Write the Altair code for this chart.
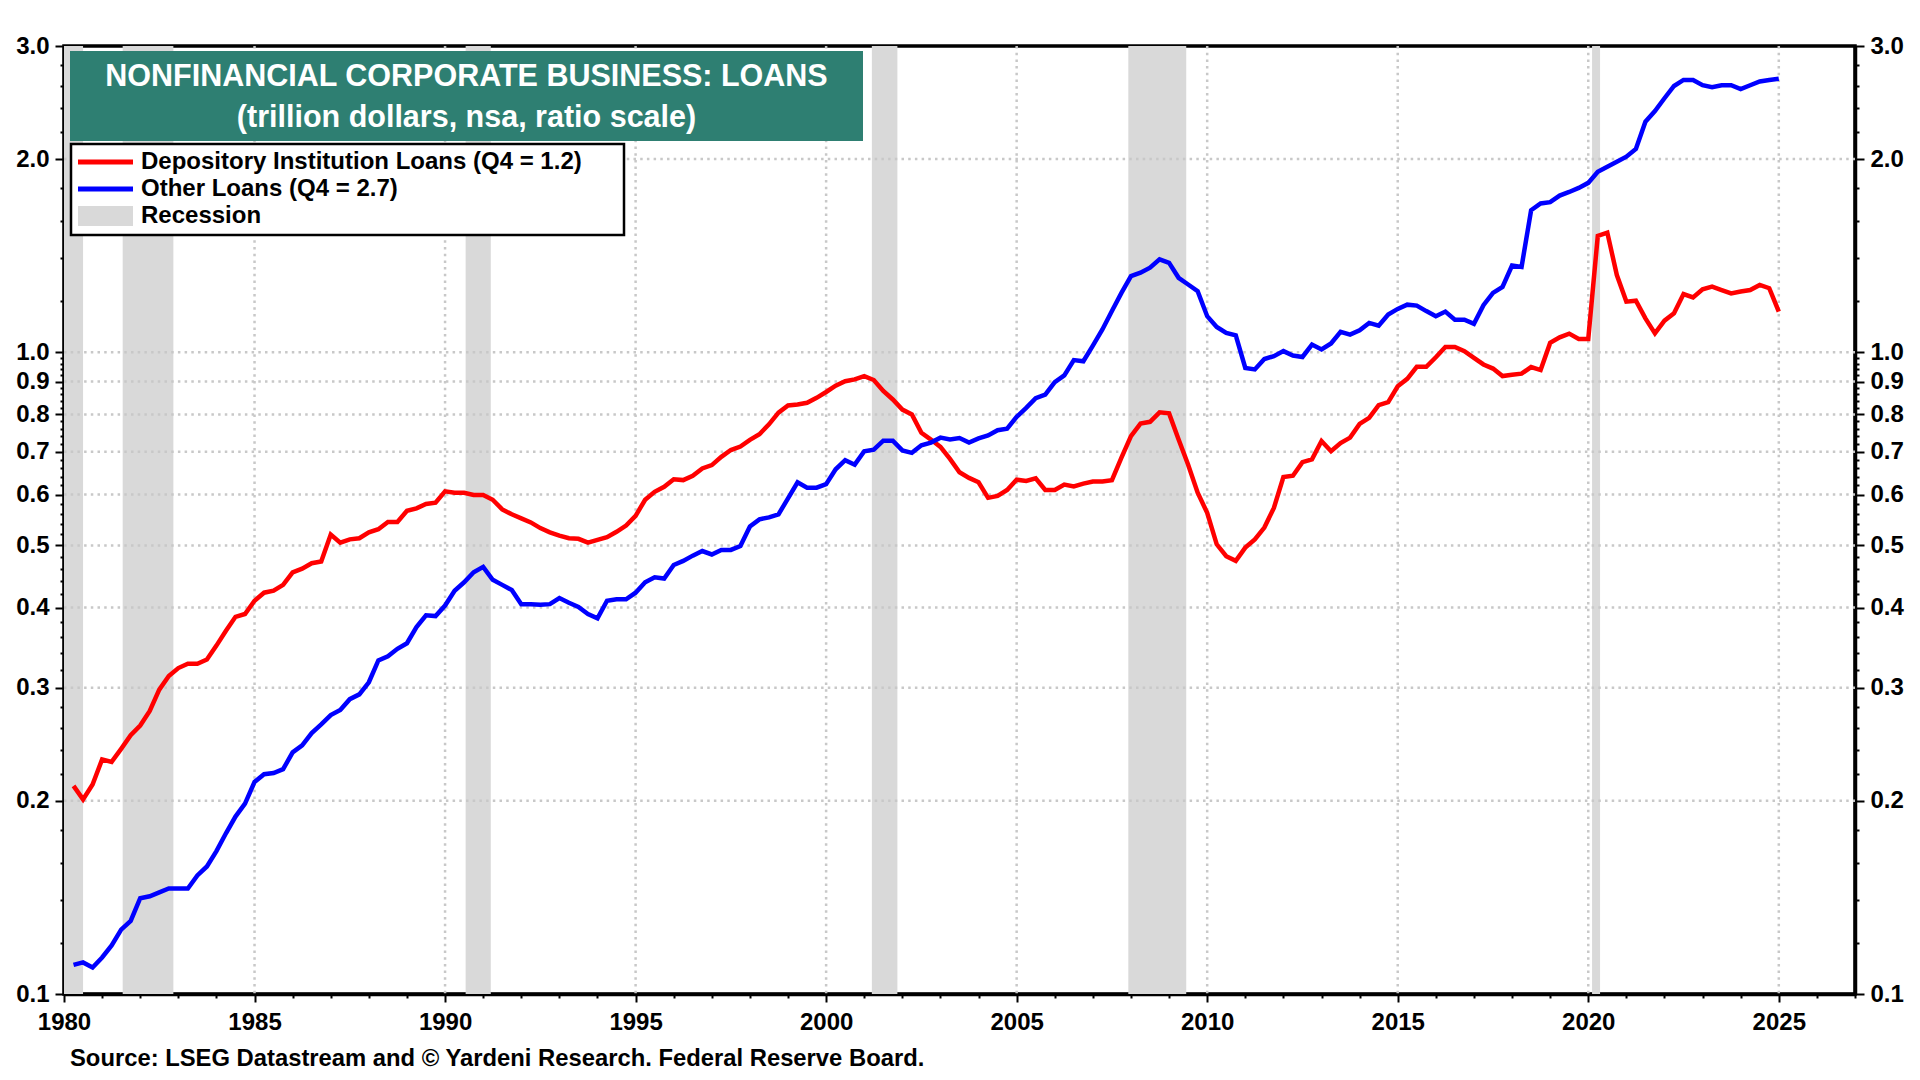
import altair as alt
import pandas as pd

# ---------------- data ----------------
# quarterly, first point 1980 Q1 plotted at 1980.25, last 2024 Q4 plotted at 2025.0
DEP_LOANS = [
    # 1980.25 - 1989.75
    0.211, 0.201, 0.212, 0.232, 0.230, 0.241, 0.253, 0.262, 0.276, 0.298,
    0.313, 0.322, 0.327, 0.327, 0.332, 0.349, 0.368, 0.387, 0.391, 0.410,
    0.422, 0.425, 0.434, 0.454, 0.460, 0.469, 0.472, 0.520, 0.505, 0.511,
    0.513, 0.524, 0.530, 0.544, 0.544, 0.566, 0.571, 0.580, 0.583,
    # 1990.0 - 2000.0
    0.607, 0.604, 0.604, 0.599, 0.599, 0.589, 0.569, 0.559, 0.551, 0.543,
    0.532, 0.524, 0.518, 0.513, 0.512, 0.505, 0.510, 0.515, 0.525, 0.537,
    0.556, 0.589, 0.606, 0.617, 0.634, 0.632, 0.642, 0.659, 0.667, 0.687,
    0.704, 0.713, 0.730, 0.745, 0.772, 0.805, 0.826, 0.829, 0.834, 0.849,
    0.867,
    # 2000.25 - 2010.25
    0.887, 0.901, 0.907, 0.918, 0.905, 0.870, 0.844, 0.814, 0.800, 0.749,
    0.731, 0.712, 0.682, 0.650, 0.637, 0.627, 0.593, 0.597, 0.610, 0.633,
    0.630, 0.636, 0.610, 0.610, 0.622, 0.618, 0.624, 0.629, 0.629, 0.632,
    0.685, 0.740, 0.774, 0.779, 0.806, 0.803, 0.731, 0.668, 0.604, 0.562,
    0.502,
    # 2010.5 - 2020.0
    0.481, 0.473, 0.496, 0.511, 0.533, 0.572, 0.639, 0.642, 0.674, 0.681,
    0.727, 0.701, 0.722, 0.736, 0.773, 0.790, 0.827, 0.836, 0.885, 0.909,
    0.949, 0.949, 0.982, 1.019, 1.019, 1.004, 0.980, 0.957, 0.943, 0.918,
    0.922, 0.926, 0.948, 0.938, 1.034, 1.055, 1.069, 1.049, 1.049,
    # 2020.25 - 2025.0
    1.518, 1.536, 1.319, 1.199, 1.203, 1.129, 1.070, 1.120, 1.150, 1.232,
    1.217, 1.253, 1.265, 1.250, 1.235, 1.243, 1.250, 1.273, 1.258, 1.157,
]

OTHER_LOANS = [
    # 1980.25 - 1989.75
    0.111, 0.112, 0.110, 0.114, 0.119, 0.126, 0.130, 0.141, 0.142, 0.144,
    0.146, 0.146, 0.146, 0.153, 0.158, 0.167, 0.178, 0.189, 0.198, 0.214,
    0.220, 0.221, 0.224, 0.238, 0.244, 0.255, 0.263, 0.272, 0.277, 0.288,
    0.293, 0.306, 0.331, 0.336, 0.345, 0.352, 0.373, 0.389, 0.388,
    # 1990.0 - 2000.0
    0.403, 0.425, 0.438, 0.454, 0.463, 0.442, 0.434, 0.426, 0.405, 0.405,
    0.404, 0.405, 0.414, 0.407, 0.401, 0.391, 0.385, 0.410, 0.412, 0.412,
    0.422, 0.438, 0.446, 0.444, 0.466, 0.473, 0.482, 0.490, 0.484, 0.492,
    0.492, 0.499, 0.535, 0.549, 0.553, 0.559, 0.592, 0.627, 0.615, 0.615,
    0.623,
    # 2000.25 - 2010.25
    0.657, 0.679, 0.668, 0.701, 0.705, 0.728, 0.728, 0.703, 0.697, 0.716,
    0.723, 0.736, 0.731, 0.735, 0.723, 0.734, 0.742, 0.756, 0.760, 0.793,
    0.819, 0.848, 0.859, 0.898, 0.920, 0.972, 0.968, 1.024, 1.085, 1.159,
    1.237, 1.314, 1.330, 1.354, 1.395, 1.378, 1.306, 1.275, 1.245, 1.138,
    1.095,
    # 2010.5 - 2020.0
    1.072, 1.062, 0.945, 0.940, 0.976, 0.986, 1.004, 0.988, 0.983, 1.028,
    1.010, 1.032, 1.076, 1.065, 1.082, 1.111, 1.100, 1.145, 1.168, 1.186,
    1.182, 1.159, 1.138, 1.157, 1.124, 1.124, 1.107, 1.184, 1.237, 1.264,
    1.365, 1.358, 1.664, 1.705, 1.713, 1.754, 1.777, 1.803, 1.836,
    # 2020.25 - 2025.0
    1.911, 1.946, 1.981, 2.017, 2.074, 2.287, 2.376, 2.487, 2.599, 2.656,
    2.656, 2.606, 2.587, 2.606, 2.606, 2.570, 2.606, 2.642, 2.656, 2.668,
]

N_Q = len(DEP_LOANS)
QUARTER_POS = [1980.25 + 0.25 * i for i in range(N_Q)]

SERIES = ["Depository Institution Loans (Q4 = 1.2)", "Other Loans (Q4 = 2.7)", "Recession"]
COLORS = ["#ff0000", "#0000ff", "#d9d9d9"]

REC_START = [1980.0, 1981.54, 1990.54, 2001.2, 2007.93, 2020.1]
REC_END = [1980.5, 1982.87, 1991.2, 2001.87, 2009.45, 2020.31]

X_TICKS = list(range(1980, 2028))
X_GRID = [1985, 1990, 1995, 2000, 2005, 2010, 2015, 2020, 2025]
Y_MAJOR = [0.1, 0.2, 0.3, 0.4, 0.5, 0.6, 0.7, 0.8, 0.9, 1.0, 2.0, 3.0]
Y_MINOR = [round(0.1 + 0.02 * k, 2) for k in range(1, 45) if k % 5 != 0] + [1.2, 1.4, 1.6, 1.8, 2.2, 2.4, 2.6, 2.8]
Y_TICKS = sorted(Y_MAJOR + Y_MINOR)
Y_GRID = [0.2, 0.3, 0.4, 0.5, 0.6, 0.7, 0.8, 0.9, 1.0, 2.0]

TITLE_1 = "NONFINANCIAL CORPORATE BUSINESS: LOANS"
TITLE_2 = "(trillion dollars, nsa, ratio scale)"
SOURCE = "Source: LSEG Datastream and \u00a9 Yardeni Research. Federal Reserve Board."

# ---------------- styling ----------------
FONT = "Liberation Sans"
TEAL = "#2e7f72"
GRID_COLOR = "#c8c8c8"
W, H = 1791, 948

dep_df = pd.DataFrame({"t": QUARTER_POS, "value": DEP_LOANS, "series": SERIES[0]})
oth_df = pd.DataFrame({"t": QUARTER_POS, "value": OTHER_LOANS, "series": SERIES[1]})
rec_df = pd.DataFrame({"start": REC_START, "end": REC_END, "series": SERIES[2]})
hgrid_df = pd.DataFrame({"value": Y_GRID})
vgrid_df = pd.DataFrame({"t": X_GRID})
one = pd.DataFrame({"k": [0]})

color = alt.Color("series:N", scale=alt.Scale(domain=SERIES, range=COLORS), legend=None)
xscale = alt.Scale(domain=[1980, 2027], nice=False, zero=False)
yscale = alt.Scale(type="log", domain=[0.1, 3.0], nice=False)

xmajor = "datum.value % 5 === 0"
xaxis = alt.Axis(
    values=X_TICKS, title=None, grid=False, labelOverlap=False, labelFlush=False,
    labelExpr=f"{xmajor} ? format(datum.value, 'd') : ''",
    tickSize={"condition": {"test": xmajor, "value": 8}, "value": 4},
    labelPadding=8,
)

ymajor = "indexof(" + str(Y_MAJOR) + ", datum.value) >= 0"


def yaxis(orient):
    return alt.Axis(
        orient=orient, values=Y_TICKS, title=None, grid=False, labelOverlap=False,
        labelFlush=False,
        labelExpr=f"{ymajor} ? format(datum.value, '.1f') : ''",
        tickSize={"condition": {"test": ymajor, "value": 9}, "value": 4},
        labelPadding=6,
    )


rec = alt.Chart(rec_df).mark_rect().encode(
    x=alt.X("start:Q", scale=xscale, axis=xaxis),
    x2="end:Q",
    y=alt.value(0),
    y2=alt.value(H),
    color=color,
)

hgrid = alt.Chart(hgrid_df).mark_rule(color=GRID_COLOR, strokeWidth=2.5, strokeDash=[2.5, 4.2]).encode(
    y=alt.Y("value:Q", scale=yscale, axis=None),
    x=alt.value(0),
    x2=alt.value(W),
)

vgrid = alt.Chart(vgrid_df).mark_rule(color=GRID_COLOR, strokeWidth=2.5, strokeDash=[2.5, 4.2]).encode(
    x=alt.X("t:Q", scale=xscale, axis=xaxis),
    y=alt.value(0),
    y2=alt.value(H),
)

dep_line = alt.Chart(dep_df).mark_line(strokeWidth=4.5).encode(
    x=alt.X("t:Q", scale=xscale, axis=xaxis),
    y=alt.Y("value:Q", scale=yscale, axis=yaxis("left")),
    color=color,
)

oth_line = alt.Chart(oth_df).mark_line(strokeWidth=4.5).encode(
    x=alt.X("t:Q", scale=xscale, axis=xaxis),
    y=alt.Y("value:Q", scale=yscale, axis=yaxis("right")),
    color=color,
)

title_box = alt.Chart(one).mark_rect(color=TEAL).encode(
    x=alt.value(6), x2=alt.value(799), y=alt.value(5), y2=alt.value(95)
)
title_1 = alt.Chart(one).mark_text(
    text=TITLE_1, font=FONT, fontSize=30.5, fontWeight="bold", color="white",
    align="center", baseline="middle",
).encode(x=alt.value(402.5), y=alt.value(31))
title_2 = alt.Chart(one).mark_text(
    text=TITLE_2, font=FONT, fontSize=30.5, fontWeight="bold", color="white",
    align="center", baseline="middle",
).encode(x=alt.value(402.5), y=alt.value(72))

leg_box = alt.Chart(one).mark_rect(fill="white", stroke="black", strokeWidth=2.5).encode(
    x=alt.value(7), x2=alt.value(560), y=alt.value(98), y2=alt.value(189)
)
leg_red = alt.Chart(one).mark_rule(color=COLORS[0], strokeWidth=5).encode(
    x=alt.value(14), x2=alt.value(69), y=alt.value(116)
)
leg_blue = alt.Chart(one).mark_rule(color=COLORS[1], strokeWidth=5).encode(
    x=alt.value(14), x2=alt.value(69), y=alt.value(143)
)
leg_gray = alt.Chart(one).mark_rect(color=COLORS[2]).encode(
    x=alt.value(14), x2=alt.value(69), y=alt.value(160), y2=alt.value(180)
)


def leg_text(label, ypos):
    return alt.Chart(one).mark_text(
        text=label, font=FONT, fontSize=24, fontWeight="bold", color="black",
        align="left", baseline="middle",
    ).encode(x=alt.value(77), y=alt.value(ypos))


source = alt.Chart(one).mark_text(
    text=SOURCE, font=FONT, fontSize=23.8, fontWeight="bold", color="black",
    align="left", baseline="alphabetic",
).encode(x=alt.value(6), y=alt.value(1020))

chart = alt.layer(
    rec, hgrid, vgrid, dep_line, oth_line,
    title_box, title_1, title_2,
    leg_box, leg_red, leg_blue, leg_gray,
    leg_text(SERIES[0], 116), leg_text(SERIES[1], 143), leg_text(SERIES[2], 170),
    source,
).resolve_scale(
    y="independent"
).properties(
    width=W, height=H,
    autosize=alt.AutoSizeParams(type="none"),
    padding={"left": 56, "top": 38, "right": 57, "bottom": 78},
    background="white",
).configure_view(
    stroke="black", strokeWidth=3.5
).configure_axis(
    labelFont=FONT, labelFontSize=24, labelFontWeight="bold", labelColor="black",
    domainColor="black", domainWidth=3.5, tickColor="black", tickWidth=2,
)

chart.save("out.html", embed_options={"renderer": "svg", "actions": False})
